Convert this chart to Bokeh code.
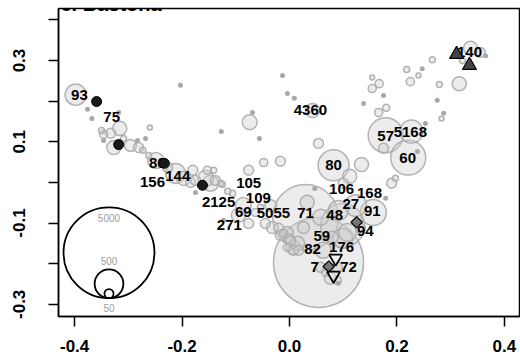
import numpy as np
from bokeh.plotting import figure
from bokeh.models import Range1d, FixedTicker, PrintfTickFormatter, Label, ColumnDataSource
from bokeh.embed import file_html
from bokeh.resources import INLINE
from bokeh.core.properties import value

TITLE = "c. Bastona"

# ---- bubbles (x, y, count) ----
bub_x = [-0.398, -0.316, -0.350, -0.346, -0.333, -0.327, -0.309, -0.296, -0.281, -0.273,
         -0.249, -0.262, -0.227, -0.212, -0.197, -0.184, -0.153, -0.156, -0.138, -0.125,
         -0.115, -0.260, -0.180, -0.175, -0.147, -0.128, -0.141, -0.076, -0.048, -0.017,
         -0.106, -0.086, -0.095, -0.076, -0.054, -0.035, -0.045, -0.032, -0.020, -0.017,
         -0.004, 0.002, 0.007, 0.017, -0.004, -0.063, 0.043, -0.074, 0.054, 0.154,
         0.167, 0.154, 0.166, 0.180, 0.134, 0.112, 0.175, 0.190, 0.082, 0.179,
         0.227, 0.221, 0.266, 0.218, 0.240, 0.225, 0.279, 0.316, 0.283, 0.337,
         0.355, 0.322, 0.030, 0.054, 0.099, 0.156, 0.100, 0.197, 0.123, 0.091,
         0.058, 0.033, 0.108, 0.132, 0.099, 0.080, 0.063, 0.026, 0.015, -0.002,
         0.007, -0.011, 0.058, 0.089, 0.076, 0.089, 0.067]
bub_y = [0.216, 0.133, 0.128, 0.118, 0.121, 0.086, 0.108, 0.091, 0.086, 0.079,
         0.054, 0.066, 0.037, 0.022, 0.010, 0.000, 0.030, 0.010, 0.005, -0.005,
         -0.022, 0.135, 0.030, 0.005, -0.002, -0.002, 0.030, 0.030, 0.049, 0.052,
         -0.027, -0.057, -0.081, -0.101, -0.061, -0.057, -0.101, -0.111, -0.113, -0.130,
         -0.123, -0.143, -0.160, -0.167, -0.160, -0.074, 0.177, 0.148, 0.096, 0.258,
         0.243, 0.231, 0.172, 0.184, 0.044, 0.015, 0.084, -0.002, 0.042, 0.116,
         0.125, 0.061, 0.302, 0.278, 0.263, 0.248, 0.241, 0.243, 0.157, 0.330,
         0.320, 0.300, -0.086, -0.197, -0.106, -0.074, -0.002, 0.010, -0.057, -0.069,
         -0.086, -0.049, -0.123, -0.113, -0.138, -0.135, -0.167, -0.111, -0.150, -0.138,
         -0.167, -0.125, -0.209, -0.209, -0.236, -0.241, -0.221]
bub_n = [270, 120, 22, 40, 60, 120, 22, 85, 60, 22,
         155, 22, 60, 240, 120, 60, 40, 155, 60, 22,
         22, 15, 60, 60, 155, 22, 22, 60, 40, 60,
         22, 155, 120, 60, 22, 85, 60, 85, 60, 60,
         85, 60, 120, 60, 40, 40, 120, 135, 60, 15,
         40, 40, 40, 30, 120, 120, 60, 60, 580, 740,
         320, 740, 22, 22, 15, 40, 22, 120, 15, 120,
         60, 22, 2630, 4900, 1170, 410, 60, 22, 290, 240,
         155, 120, 195, 60, 240, 85, 155, 85, 120, 60,
         60, 40, 60, 60, 85, 40, 40]

# ---- small grey dots ----
dot_x = [-0.013, -0.004, 0.009, -0.069, -0.127, -0.056, 0.175, 0.138, 0.047, 0.247,
         0.275, 0.287, 0.253, 0.365, 0.238, -0.376, -0.368, -0.318, -0.268, -0.283,
         -0.203, -0.346, -0.175, -0.123, 0.179, 0.091]
dot_y = [0.263, 0.219, 0.207, 0.172, 0.125, 0.108, 0.214, 0.194, -0.015, 0.280,
         0.202, 0.170, 0.145, 0.312, 0.076, 0.180, 0.157, 0.172, 0.108, 0.103,
         0.239, 0.103, -0.025, -0.093, -0.039, -0.248]

# ---- highlighted groups ----
blk_x = [-0.359, -0.318, -0.233, -0.162]
blk_y = [0.199, 0.093, 0.047, -0.007]
up_x = [0.311, 0.335]
up_y = [0.315, 0.288]
dia_x = [0.125, 0.073]
dia_y = [-0.098, -0.207]
down_x = [0.086, 0.082]
down_y = [-0.187, -0.229]

# ---- point labels ----
lab_text = ["93", "75", "86", "156", "144", "2125", "105", "109", "69", "5055",
            "271", "71", "48", "106", "168", "27", "91", "94", "59", "82",
            "176", "7", "72", "80", "4360", "57", "5168", "60", "140"]
lab_x = [-0.391, -0.331, -0.246, -0.255, -0.208, -0.132, -0.076, -0.058, -0.086, -0.030,
         -0.112, 0.030, 0.084, 0.097, 0.149, 0.114, 0.154, 0.141, 0.060, 0.043,
         0.097, 0.047, 0.110, 0.082, 0.039, 0.179, 0.225, 0.220, 0.335]
lab_y = [0.216, 0.160, 0.049, 0.000, 0.017, -0.047, -0.002, -0.039, -0.074, -0.076,
         -0.106, -0.076, -0.079, -0.017, -0.025, -0.052, -0.071, -0.120, -0.133, -0.165,
         -0.160, -0.207, -0.209, 0.042, 0.177, 0.113, 0.123, 0.061, 0.320]

# ---- size key ----
legend_n = [5000, 500, 50]
legend_labels = ["5000", "500", "50"]
legend_x = -0.336
legend_y0 = -0.285

x_ticks = [-0.4, -0.2, 0.0, 0.2, 0.4]
y_ticks = [-0.3, -0.1, 0.1, 0.3]
y_minor = [-0.2, 0.0, 0.2, 0.4]

# ---- layout ----
W, H = 520, 360
BL, BR, BT, BB = 58, 0, 8, 44
XR = (-0.43, 0.43)
YR = (-0.33, 0.428)
K = 0.643  # px radius per sqrt(count)
FONT = "Liberation Sans"
px_per_y = (H - BT - BB) / (YR[1] - YR[0])

p = figure(width=W, height=H, output_backend="svg", toolbar_location=None,
           x_range=Range1d(*XR), y_range=Range1d(*YR),
           min_border=0, min_border_left=BL, min_border_right=BR,
           min_border_top=BT, min_border_bottom=BB)
p.xgrid.visible = False
p.ygrid.visible = False
p.outline_line_color = "black"
p.outline_line_width = 1.5
p.background_fill_color = "white"
p.border_fill_color = "white"

for ax in (p.xaxis[0], p.yaxis[0]):
    ax.axis_line_color = "black"
    ax.axis_line_width = 1.5
    ax.major_tick_line_color = "black"
    ax.major_tick_line_width = 1.5
    ax.major_tick_out = 10
    ax.major_tick_in = 0
    ax.minor_tick_line_color = "black"
    ax.minor_tick_line_width = 1.5
    ax.minor_tick_out = 10
    ax.minor_tick_in = 0
    ax.major_label_text_font = FONT
    ax.major_label_text_font_style = "bold"
    ax.major_label_text_font_size = "17px"
    ax.major_label_text_color = "black"
    ax.formatter = PrintfTickFormatter(format="%.1f")

p.xaxis[0].ticker = FixedTicker(ticks=x_ticks, minor_ticks=[])
p.xaxis[0].major_label_standoff = 13
p.yaxis[0].ticker = FixedTicker(ticks=y_ticks, minor_ticks=y_minor)
p.yaxis[0].major_label_orientation = "vertical"
p.yaxis[0].major_label_standoff = 23

# bubbles (largest first)
order = np.argsort(bub_n)[::-1]
bsrc = ColumnDataSource(dict(
    x=[bub_x[i] for i in order], y=[bub_y[i] for i in order],
    s=[2 * K * np.sqrt(bub_n[i]) for i in order]))
p.scatter("x", "y", size="s", source=bsrc, marker="circle",
          fill_color="#cfcfcf", fill_alpha=0.4,
          line_color="#ababab", line_alpha=0.9, line_width=1.5)

p.scatter(dot_x, dot_y, size=5, marker="circle", fill_color="#a8a8a8",
          line_color=None)

p.text(lab_x, lab_y, text=lab_text, text_font=value(FONT), text_font_style="bold",
       text_font_size="15px", text_color="black", text_align="center",
       text_baseline="middle")

p.scatter(blk_x, blk_y, size=10, marker="circle", fill_color="#1a1a1a",
          line_color="black", line_width=1)
p.scatter(up_x, up_y, size=14, marker="triangle", fill_color="#444444",
          line_color="black", line_width=1.2)
p.scatter(dia_x, dia_y, size=8, marker="square", angle=np.pi / 4,
          fill_color="#777777", line_color="black", line_width=1.2)
p.scatter(down_x, down_y, size=13, marker="inverted_triangle", fill_color="white",
          fill_alpha=0.3, line_color="black", line_width=1.8)

# size key: circles tangent at their bottoms
leg_r = [K * np.sqrt(n) for n in legend_n]
leg_cy = [legend_y0 + r / px_per_y for r in leg_r]
p.scatter([legend_x] * 3, leg_cy, size=[2 * r for r in leg_r], marker="circle",
          fill_color=None, line_color="black", line_width=1.8)
leg_off = [-11, 8, -10]  # px: label position relative to circle top (5000, 500) / bottom (50)
leg_ty = [legend_y0 + (2 * leg_r[0] + leg_off[0]) / px_per_y,
          legend_y0 + (2 * leg_r[1] + leg_off[1]) / px_per_y,
          legend_y0 + leg_off[2] / px_per_y]
p.text([legend_x] * 3, leg_ty, text=legend_labels, text_font=value(FONT),
       text_font_size="10px", text_color="#a0a0a0", text_align="center",
       text_baseline="middle")

p.add_layout(Label(x=XR[0] + 2 / 537.0, y=YR[1] + 5 / px_per_y, text=TITLE,
                   text_font=FONT, text_font_style="bold", text_font_size="20px",
                   text_baseline="alphabetic", text_color="black"))

open("out.html", "w").write(file_html(p, INLINE))
